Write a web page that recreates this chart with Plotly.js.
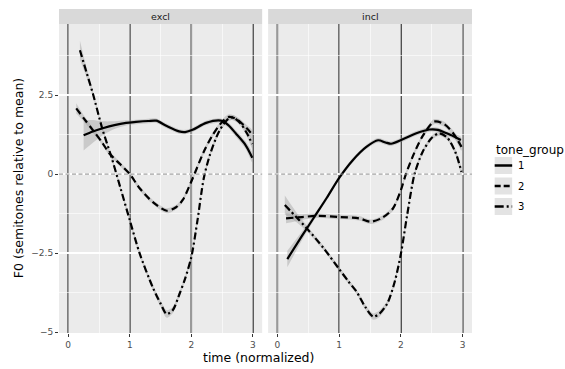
<!DOCTYPE html>
<html>
<head>
<meta charset="utf-8">
<script src="https://cdn.plot.ly/plotly-3.0.1.min.js"></script>
<style>html,body{margin:0;padding:0;background:#fff;}#chart{width:565px;height:369px;}</style>
</head>
<body>
<div id="chart"></div>
<script>
// ---- data ----
const panels = ['excl', 'incl'];
const groups = ['1', '2', '3'];
const legendTitle = 'tone_group';
const xTickVals = [0, 1, 2, 3];
const xTickText = ['0', '1', '2', '3'];
const yTickVals = [-5, -2.5, 0, 2.5];
const yTickText = ['\u22125', '\u22122.5', '0', '2.5'];
const vlineX = [0, 1, 2, 3];
const hlineY = [0];

// excl panel
const excl1X = [0.25, 0.4, 0.56, 0.75, 0.94, 1.1, 1.3, 1.43, 1.6, 1.8, 1.9, 2.02, 2.24, 2.48, 2.6, 2.72, 2.88, 2.99];
const excl1Y = [1.23, 1.35, 1.45, 1.55, 1.62, 1.65, 1.68, 1.69, 1.52, 1.35, 1.33, 1.40, 1.62, 1.69, 1.55, 1.29, 0.92, 0.52];
const excl1SE = [0.48, 0.36, 0.22, 0.12, 0.08, 0.07, 0.07, 0.07, 0.07, 0.07, 0.07, 0.07, 0.07, 0.07, 0.08, 0.1, 0.12, 0.15];

const excl2X = [0.13, 0.25, 0.4, 0.55, 0.67, 0.85, 1.0, 1.16, 1.37, 1.6, 1.75, 1.86, 2.02, 2.2, 2.35, 2.5, 2.61, 2.75, 2.9, 2.99];
const excl2Y = [2.08, 1.77, 1.39, 1.0, 0.65, 0.3, 0.0, -0.45, -0.88, -1.16, -1.05, -0.82, -0.14, 0.7, 1.25, 1.65, 1.81, 1.72, 1.45, 1.25];
const excl2SE = [0.16, 0.1, 0.08, 0.07, 0.07, 0.07, 0.07, 0.07, 0.07, 0.08, 0.07, 0.07, 0.07, 0.07, 0.07, 0.07, 0.08, 0.08, 0.1, 0.13];

const excl3X = [0.19, 0.3, 0.4, 0.56, 0.7, 0.85, 1.0, 1.16, 1.37, 1.5, 1.6, 1.7, 1.81, 1.9, 2.0, 2.1, 2.2, 2.3, 2.45, 2.6, 2.68, 2.8, 2.9, 2.99];
const excl3Y = [3.92, 3.2, 2.55, 1.39, 0.55, -0.45, -1.46, -2.51, -3.57, -4.1, -4.43, -4.3, -3.78, -3.3, -2.62, -1.46, -0.15, 0.6, 1.35, 1.75, 1.79, 1.6, 1.3, 0.95];
const excl3SE = [0.3, 0.15, 0.09, 0.07, 0.07, 0.07, 0.07, 0.07, 0.08, 0.1, 0.12, 0.1, 0.08, 0.07, 0.07, 0.07, 0.07, 0.07, 0.07, 0.08, 0.08, 0.08, 0.1, 0.14];

// incl panel
const incl1X = [0.16, 0.4, 0.6, 0.8, 1.0, 1.22, 1.44, 1.63, 1.75, 1.84, 2.03, 2.25, 2.46, 2.6, 2.73, 2.85, 2.97];
const incl1Y = [-2.69, -1.95, -1.35, -0.75, -0.12, 0.44, 0.86, 1.07, 1.0, 0.96, 1.1, 1.29, 1.41, 1.4, 1.3, 1.2, 1.08];
const incl1SE = [0.26, 0.14, 0.09, 0.07, 0.07, 0.07, 0.07, 0.07, 0.07, 0.07, 0.07, 0.07, 0.07, 0.07, 0.07, 0.08, 0.1];

const incl2X = [0.14, 0.4, 0.65, 1.0, 1.32, 1.51, 1.7, 1.87, 2.0, 2.08, 2.2, 2.35, 2.54, 2.7, 2.85, 2.98];
const incl2Y = [-1.40, -1.36, -1.32, -1.36, -1.40, -1.51, -1.38, -1.09, -0.5, 0.0, 0.6, 1.2, 1.66, 1.58, 1.28, 0.86];
const incl2SE = [0.16, 0.09, 0.07, 0.07, 0.07, 0.07, 0.07, 0.07, 0.07, 0.07, 0.07, 0.07, 0.08, 0.08, 0.09, 0.12];

const incl3X = [0.12, 0.3, 0.49, 0.75, 0.99, 1.15, 1.28, 1.42, 1.55, 1.65, 1.78, 1.9, 2.0, 2.1, 2.22, 2.35, 2.5, 2.62, 2.75, 2.88, 2.98];
const incl3Y = [-0.98, -1.35, -1.75, -2.35, -2.98, -3.4, -3.72, -4.2, -4.51, -4.42, -4.09, -3.4, -2.51, -1.3, 0.0, 0.7, 1.15, 1.29, 1.15, 0.7, 0.07];
const incl3SE = [0.3, 0.16, 0.09, 0.07, 0.07, 0.07, 0.07, 0.08, 0.1, 0.1, 0.08, 0.07, 0.07, 0.07, 0.07, 0.07, 0.07, 0.08, 0.08, 0.09, 0.12];

const series = [
  {panel: 0, group: 0, x: excl1X, y: excl1Y, se: excl1SE},
  {panel: 0, group: 1, x: excl2X, y: excl2Y, se: excl2SE},
  {panel: 0, group: 2, x: excl3X, y: excl3Y, se: excl3SE},
  {panel: 1, group: 0, x: incl1X, y: incl1Y, se: incl1SE},
  {panel: 1, group: 1, x: incl2X, y: incl2Y, se: incl2SE},
  {panel: 1, group: 2, x: incl3X, y: incl3Y, se: incl3SE}
];
const dashes = ['solid', '7px,4px', '7px,3px,2px,3px'];
const keyDashes = ['solid', '6px,3px', '9px,3px,2px,3px'];

// ---- traces ----
const traces = [];
series.forEach(s => {
  const xa = s.panel === 0 ? 'x' : 'x2';
  const ya = s.panel === 0 ? 'y' : 'y2';
  const up = s.y.map((v, i) => v + s.se[i]);
  const lo = s.y.map((v, i) => v - s.se[i]);
  traces.push({
    type: 'scatter', mode: 'lines', xaxis: xa, yaxis: ya,
    x: s.x.concat(s.x.slice().reverse()),
    y: up.concat(lo.slice().reverse()),
    fill: 'toself', fillcolor: 'rgba(153,153,153,0.4)',
    line: {width: 0, shape: 'spline', smoothing: 0.8},
    showlegend: false, hoverinfo: 'skip'
  });
});
series.forEach(s => {
  const xa = s.panel === 0 ? 'x' : 'x2';
  const ya = s.panel === 0 ? 'y' : 'y2';
  traces.push({
    type: 'scatter', mode: 'lines', xaxis: xa, yaxis: ya,
    x: s.x, y: s.y, name: groups[s.group],
    showlegend: false,
    line: {color: '#000', width: 2.2, dash: dashes[s.group], shape: 'spline', smoothing: 0.8}
  });
});

// ---- shapes ----
const shapes = [];
['x', 'x2'].forEach((xr, p) => {
  const yr = p === 0 ? 'y' : 'y2';
  vlineX.forEach(v => shapes.push({
    type: 'line', xref: xr, yref: yr + ' domain', x0: v, x1: v, y0: 0, y1: 1,
    line: {color: '#000', width: 1.4}, layer: 'below'
  }));
  hlineY.forEach(h => shapes.push({
    type: 'line', xref: xr + ' domain', yref: yr, x0: 0, x1: 1, y0: h, y1: h,
    line: {color: '#888', width: 1, dash: '4px,2.5px'}, layer: 'above'
  }));
});
const dom = [[0, 0.4919], [0.5064, 1]];
const yTop = 0.9537;
dom.forEach(d => shapes.push({
  type: 'rect', xref: 'paper', yref: 'paper', x0: d[0], x1: d[1], y0: yTop, y1: 1,
  fillcolor: '#d9d9d9', line: {width: 0}, layer: 'above'
}));

// legend (drawn as paper shapes + text)
const PW = 413.3, PH = 324, PL = 59, PB = 333;
const px = v => (v - PL) / PW;
const py = v => (PB - v) / PH;
const keyTops = [157, 177.5, 198];
const annotations = [];
groups.forEach((g, i) => {
  const t = keyTops[i];
  shapes.push({
    type: 'rect', xref: 'paper', yref: 'paper',
    x0: px(495), x1: px(512.5), y0: py(t + 17), y1: py(t),
    fillcolor: '#e3e3e3', line: {width: 0}, layer: 'above'
  });
  shapes.push({
    type: 'line', xref: 'paper', yref: 'paper',
    x0: px(495), x1: px(512.5), y0: py(t + 8.5), y1: py(t + 8.5),
    line: {color: '#000', width: 2.5, dash: keyDashes[i]}, layer: 'above'
  });
  annotations.push({
    text: g, xref: 'paper', yref: 'paper', x: px(516), y: py(t + 8.5),
    xanchor: 'left', yanchor: 'middle', showarrow: false,
    font: {family: 'DejaVu Sans', size: 10, color: '#000'}
  });
});
annotations.push({
  text: legendTitle, xref: 'paper', yref: 'paper', x: px(494), y: py(150),
  xanchor: 'left', yanchor: 'middle', showarrow: false,
  font: {family: 'DejaVu Sans', size: 12, color: '#000'}
});

panels.forEach((t, i) => annotations.push({
  text: t, xref: 'paper', yref: 'paper', x: (dom[i][0] + dom[i][1]) / 2, y: (yTop + 1) / 2,
  xanchor: 'center', yanchor: 'middle', showarrow: false,
  font: {family: 'DejaVu Sans', size: 9.5, color: '#1a1a1a'}
}));
annotations.push({
  text: 'time (normalized)', xref: 'paper', yref: 'paper', x: 0.484, y: -0.077,
  xanchor: 'center', yanchor: 'middle', showarrow: false,
  font: {family: 'DejaVu Sans', size: 12.5, color: '#000'}
});
annotations.push({
  text: 'F0 (semitones relative to mean)', xref: 'paper', yref: 'paper', x: -0.099, y: 0.478,
  xanchor: 'center', yanchor: 'middle', showarrow: false, textangle: -90,
  font: {family: 'DejaVu Sans', size: 12.5, color: '#000'}
});

const xAxisBase = {
  range: [-0.15, 3.15], tickvals: xTickVals, ticktext: xTickText,
  showgrid: false, zeroline: false, showline: false,
  ticks: 'outside', ticklen: 3, tickcolor: '#333', tickwidth: 1,
  tickfont: {family: 'DejaVu Sans', size: 9, color: '#4d4d4d'},
  minor: {dtick: 0.5, tick0: 0, showgrid: true, gridcolor: '#fff', gridwidth: 0.6, ticks: ''},
  fixedrange: true
};
const yAxisBase = {
  range: [-5.03, 4.75], tickvals: yTickVals, ticktext: yTickText, domain: [0, yTop],
  showgrid: true, gridcolor: '#fff', gridwidth: 1.2, zeroline: false, showline: false,
  ticks: 'outside', ticklen: 3, tickcolor: '#333', tickwidth: 1,
  tickfont: {family: 'DejaVu Sans', size: 9, color: '#4d4d4d'},
  minor: {dtick: 1.25, tick0: 0, showgrid: true, gridcolor: '#fff', gridwidth: 0.6, ticks: ''},
  fixedrange: true
};

const layout = {
  width: 565, height: 369,
  margin: {l: 59, r: 93, t: 9, b: 36, pad: 0},
  paper_bgcolor: '#fff', plot_bgcolor: '#ebebeb',
  font: {family: 'DejaVu Sans', color: '#000'},
  xaxis: Object.assign({}, xAxisBase, {domain: dom[0], anchor: 'y'}),
  xaxis2: Object.assign({}, xAxisBase, {domain: dom[1], anchor: 'y2'}),
  yaxis: Object.assign({}, yAxisBase, {anchor: 'x'}),
  yaxis2: Object.assign({}, yAxisBase, {anchor: 'x2', matches: 'y', showticklabels: false, ticks: ''}),
  shapes: shapes, annotations: annotations,
  showlegend: false,
  hovermode: false
};

Plotly.newPlot('chart', traces, layout, {staticPlot: true, displayModeBar: false});
</script>
</body>
</html>
